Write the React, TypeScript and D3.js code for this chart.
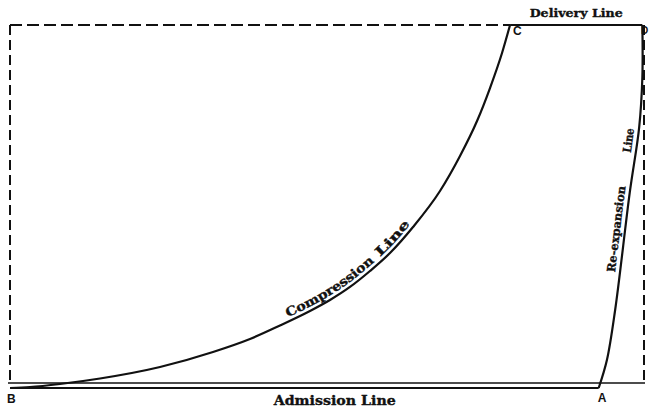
import React, { useEffect, useRef } from 'react';
import * as d3 from 'd3';

const W = 649;
const H = 410;

// Volume (% of stroke) and pressure (% of delivery pressure) read from the card
const compressionVolume = [0, 3.16, 7.9, 14.22, 23.7, 32.07, 37.91, 42.65, 47.39, 50.55, 53.71, 56.87, 60.03, 63.67, 67.93, 71.09, 73.78, 75.83, 77.73, 79.0];
const compressionPressure = [-1.4, -1.12, -0.28, 1.26, 4.47, 8.66, 12.29, 16.06, 20.11, 23.18, 26.82, 31.28, 36.31, 43.58, 53.63, 63.41, 73.18, 82.4, 92.18, 100];

const reexpansionVolume = [93.0, 94.3, 95.6, 97.9, 99.4, 99.9, 99.9];
const reexpansionPressure = [-1.4, 6.4, 20.4, 53.1, 71.5, 85.5, 100];

const admissionVolume = [0, 93.0];
const admissionPressure = [-1.4, -1.4];

const deliveryVolume = [79.0, 99.9];
const deliveryPressure = [100, 100];

const frameVolume = [0, 100];
const framePressure = [0, 100];

const pointLabels = ['A', 'B', 'C', 'D'];
const pointVolume = [93.0, 0, 79.0, 100];
const pointPressure = [-1.4, -1.4, 100, 100];

// curve labels: text, start and end along the curve (volume for compression, pressure for re-expansion)
const compressionLabelText = ['Compression', 'Line'];
const compressionLabelStart = [44.2, 58.9];
const compressionLabelEnd = [58.0, 63.7];
const reexpLabelText = ['Re-expansion', 'Line'];
const reexpLabelStart = [30.7, 64.0];
const reexpLabelEnd = [54.7, 70.8];

export default function App() {
  const ref = useRef<SVGSVGElement | null>(null);

  useEffect(() => {
    const svg = d3.select(ref.current);
    svg.selectAll('*').remove();

    const x = d3.scaleLinear().domain(frameVolume).range([10, 643]);
    const y = d3.scaleLinear().domain(framePressure).range([383, 25]);
    const ink = '#111';

    svg.append('rect').attr('width', W).attr('height', H).attr('fill', '#fff');

    const g = svg.append('g');

    // dashed frame: top, left, right
    g.append('line')
      .attr('x1', x(frameVolume[0])).attr('x2', x(deliveryVolume[0]))
      .attr('y1', y(framePressure[1])).attr('y2', y(framePressure[1]))
      .attr('stroke', ink).attr('stroke-width', 2).attr('stroke-dasharray', '12,5');
    g.append('line')
      .attr('x1', x(frameVolume[0])).attr('x2', x(frameVolume[0]))
      .attr('y1', y(framePressure[1])).attr('y2', y(framePressure[0]))
      .attr('stroke', ink).attr('stroke-width', 2).attr('stroke-dasharray', '10,5');
    g.append('line')
      .attr('x1', x(frameVolume[1]) + 1).attr('x2', x(frameVolume[1]) + 1)
      .attr('y1', y(framePressure[1])).attr('y2', y(framePressure[0]))
      .attr('stroke', ink).attr('stroke-width', 2).attr('stroke-dasharray', '10,5');
    // bottom (atmospheric) line
    g.append('line')
      .attr('x1', x(frameVolume[0]) - 2).attr('x2', x(frameVolume[1]) + 2)
      .attr('y1', y(framePressure[0])).attr('y2', y(framePressure[0]))
      .attr('stroke', ink).attr('stroke-width', 1.6);

    const compLine = d3.line<[number, number]>()
      .x((d) => x(d[0]))
      .y((d) => y(d[1]))
      .curve(d3.curveMonotoneX);
    const reexLine = d3.line<[number, number]>()
      .x((d) => x(d[0]))
      .y((d) => y(d[1]))
      .curve(d3.curveCatmullRom.alpha(0.5));
    const straight = d3.line<[number, number]>().x((d) => x(d[0])).y((d) => y(d[1]));

    const comp: [number, number][] = compressionVolume.map((v, i) => [v, compressionPressure[i]]);
    const reex: [number, number][] = reexpansionVolume.map((v, i) => [v, reexpansionPressure[i]]);
    const adm: [number, number][] = admissionVolume.map((v, i) => [v, admissionPressure[i]]);
    const del: [number, number][] = deliveryVolume.map((v, i) => [v, deliveryPressure[i]]);

    g.append('path').attr('d', straight(adm)).attr('fill', 'none').attr('stroke', ink).attr('stroke-width', 2);
    g.append('path').attr('d', straight(del)).attr('fill', 'none').attr('stroke', ink).attr('stroke-width', 2);
    const compPath = g.append('path').attr('id', 'compression').attr('d', compLine(comp))
      .attr('fill', 'none').attr('stroke', ink).attr('stroke-width', 2.2);
    const reexPath = g.append('path').attr('id', 'reexpansion').attr('d', reexLine(reex))
      .attr('fill', 'none').attr('stroke', ink).attr('stroke-width', 2.2);

    const findLength = (node: SVGPathElement, f: (p: DOMPoint) => number) => {
      let lo = 0;
      let hi = node.getTotalLength();
      for (let k = 0; k < 40; k++) {
        const mid = (lo + hi) / 2;
        if (f(node.getPointAtLength(mid)) < 0) lo = mid; else hi = mid;
      }
      return (lo + hi) / 2;
    };

    const serif = '"DejaVu Serif", "Liberation Serif", serif';
    const heavy = 0.35;

    const cNode = compPath.node() as SVGPathElement;
    compressionLabelText.forEach((t, i) => {
      const l0 = findLength(cNode, (p) => p.x - x(compressionLabelStart[i]));
      const l1 = findLength(cNode, (p) => p.x - x(compressionLabelEnd[i]));
      const text = g.append('text')
        .attr('font-family', serif).attr('font-weight', 'bold').attr('font-size', 12.5)
        .attr('fill', ink).attr('stroke', ink).attr('stroke-width', heavy).attr('dy', -4);
      text.append('textPath').attr('href', '#compression').attr('startOffset', l0)
        .attr('textLength', l1 - l0).attr('lengthAdjust', 'spacingAndGlyphs').text(t);
    });

    const rNode = reexPath.node() as SVGPathElement;
    reexpLabelText.forEach((t, i) => {
      const l0 = findLength(rNode, (p) => y(reexpLabelStart[i]) - p.y);
      const l1 = findLength(rNode, (p) => y(reexpLabelEnd[i]) - p.y);
      const text = g.append('text')
        .attr('font-family', serif).attr('font-weight', 'bold').attr('font-size', 11.5)
        .attr('fill', ink).attr('stroke', ink).attr('stroke-width', heavy).attr('dy', -5);
      text.append('textPath').attr('href', '#reexpansion').attr('startOffset', l0)
        .attr('textLength', l1 - l0).attr('lengthAdjust', 'spacingAndGlyphs').text(t);
    });

    // line names
    g.append('text')
      .attr('x', x((admissionVolume[0] + admissionVolume[1]) / 2 + 4.8)).attr('y', y(admissionPressure[0]) + 17)
      .attr('text-anchor', 'middle').attr('font-family', serif).attr('font-weight', 'bold')
      .attr('font-size', 12.5).attr('textLength', 122).attr('lengthAdjust', 'spacingAndGlyphs')
      .attr('fill', ink).attr('stroke', ink).attr('stroke-width', heavy).text('Admission Line');
    g.append('text')
      .attr('x', x((deliveryVolume[0] + deliveryVolume[1]) / 2)).attr('y', y(deliveryPressure[0]) - 8)
      .attr('text-anchor', 'middle').attr('font-family', serif).attr('font-weight', 'bold')
      .attr('font-size', 11.5).attr('textLength', 93).attr('lengthAdjust', 'spacingAndGlyphs')
      .attr('fill', ink).attr('stroke', ink).attr('stroke-width', heavy).text('Delivery Line');

    // point letters
    const offsets: [number, number][] = [[-1, 14], [-3, 15], [3, 10], [-2, 9]];
    const sizes = [12, 12, 12, 10];
    pointLabels.forEach((t, i) => {
      g.append('text')
        .attr('x', x(pointVolume[i]) + offsets[i][0]).attr('y', y(pointPressure[i]) + offsets[i][1])
        .attr('font-family', '"Liberation Sans", Arial, sans-serif').attr('font-weight', 'bold')
        .attr('font-size', sizes[i]).attr('fill', ink).text(t);
    });
  }, []);

  return (
    <svg
      ref={ref}
      width={W}
      height={H}
      style={{ position: 'absolute', left: 0, top: 0, display: 'block' }}
    />
  );
}
